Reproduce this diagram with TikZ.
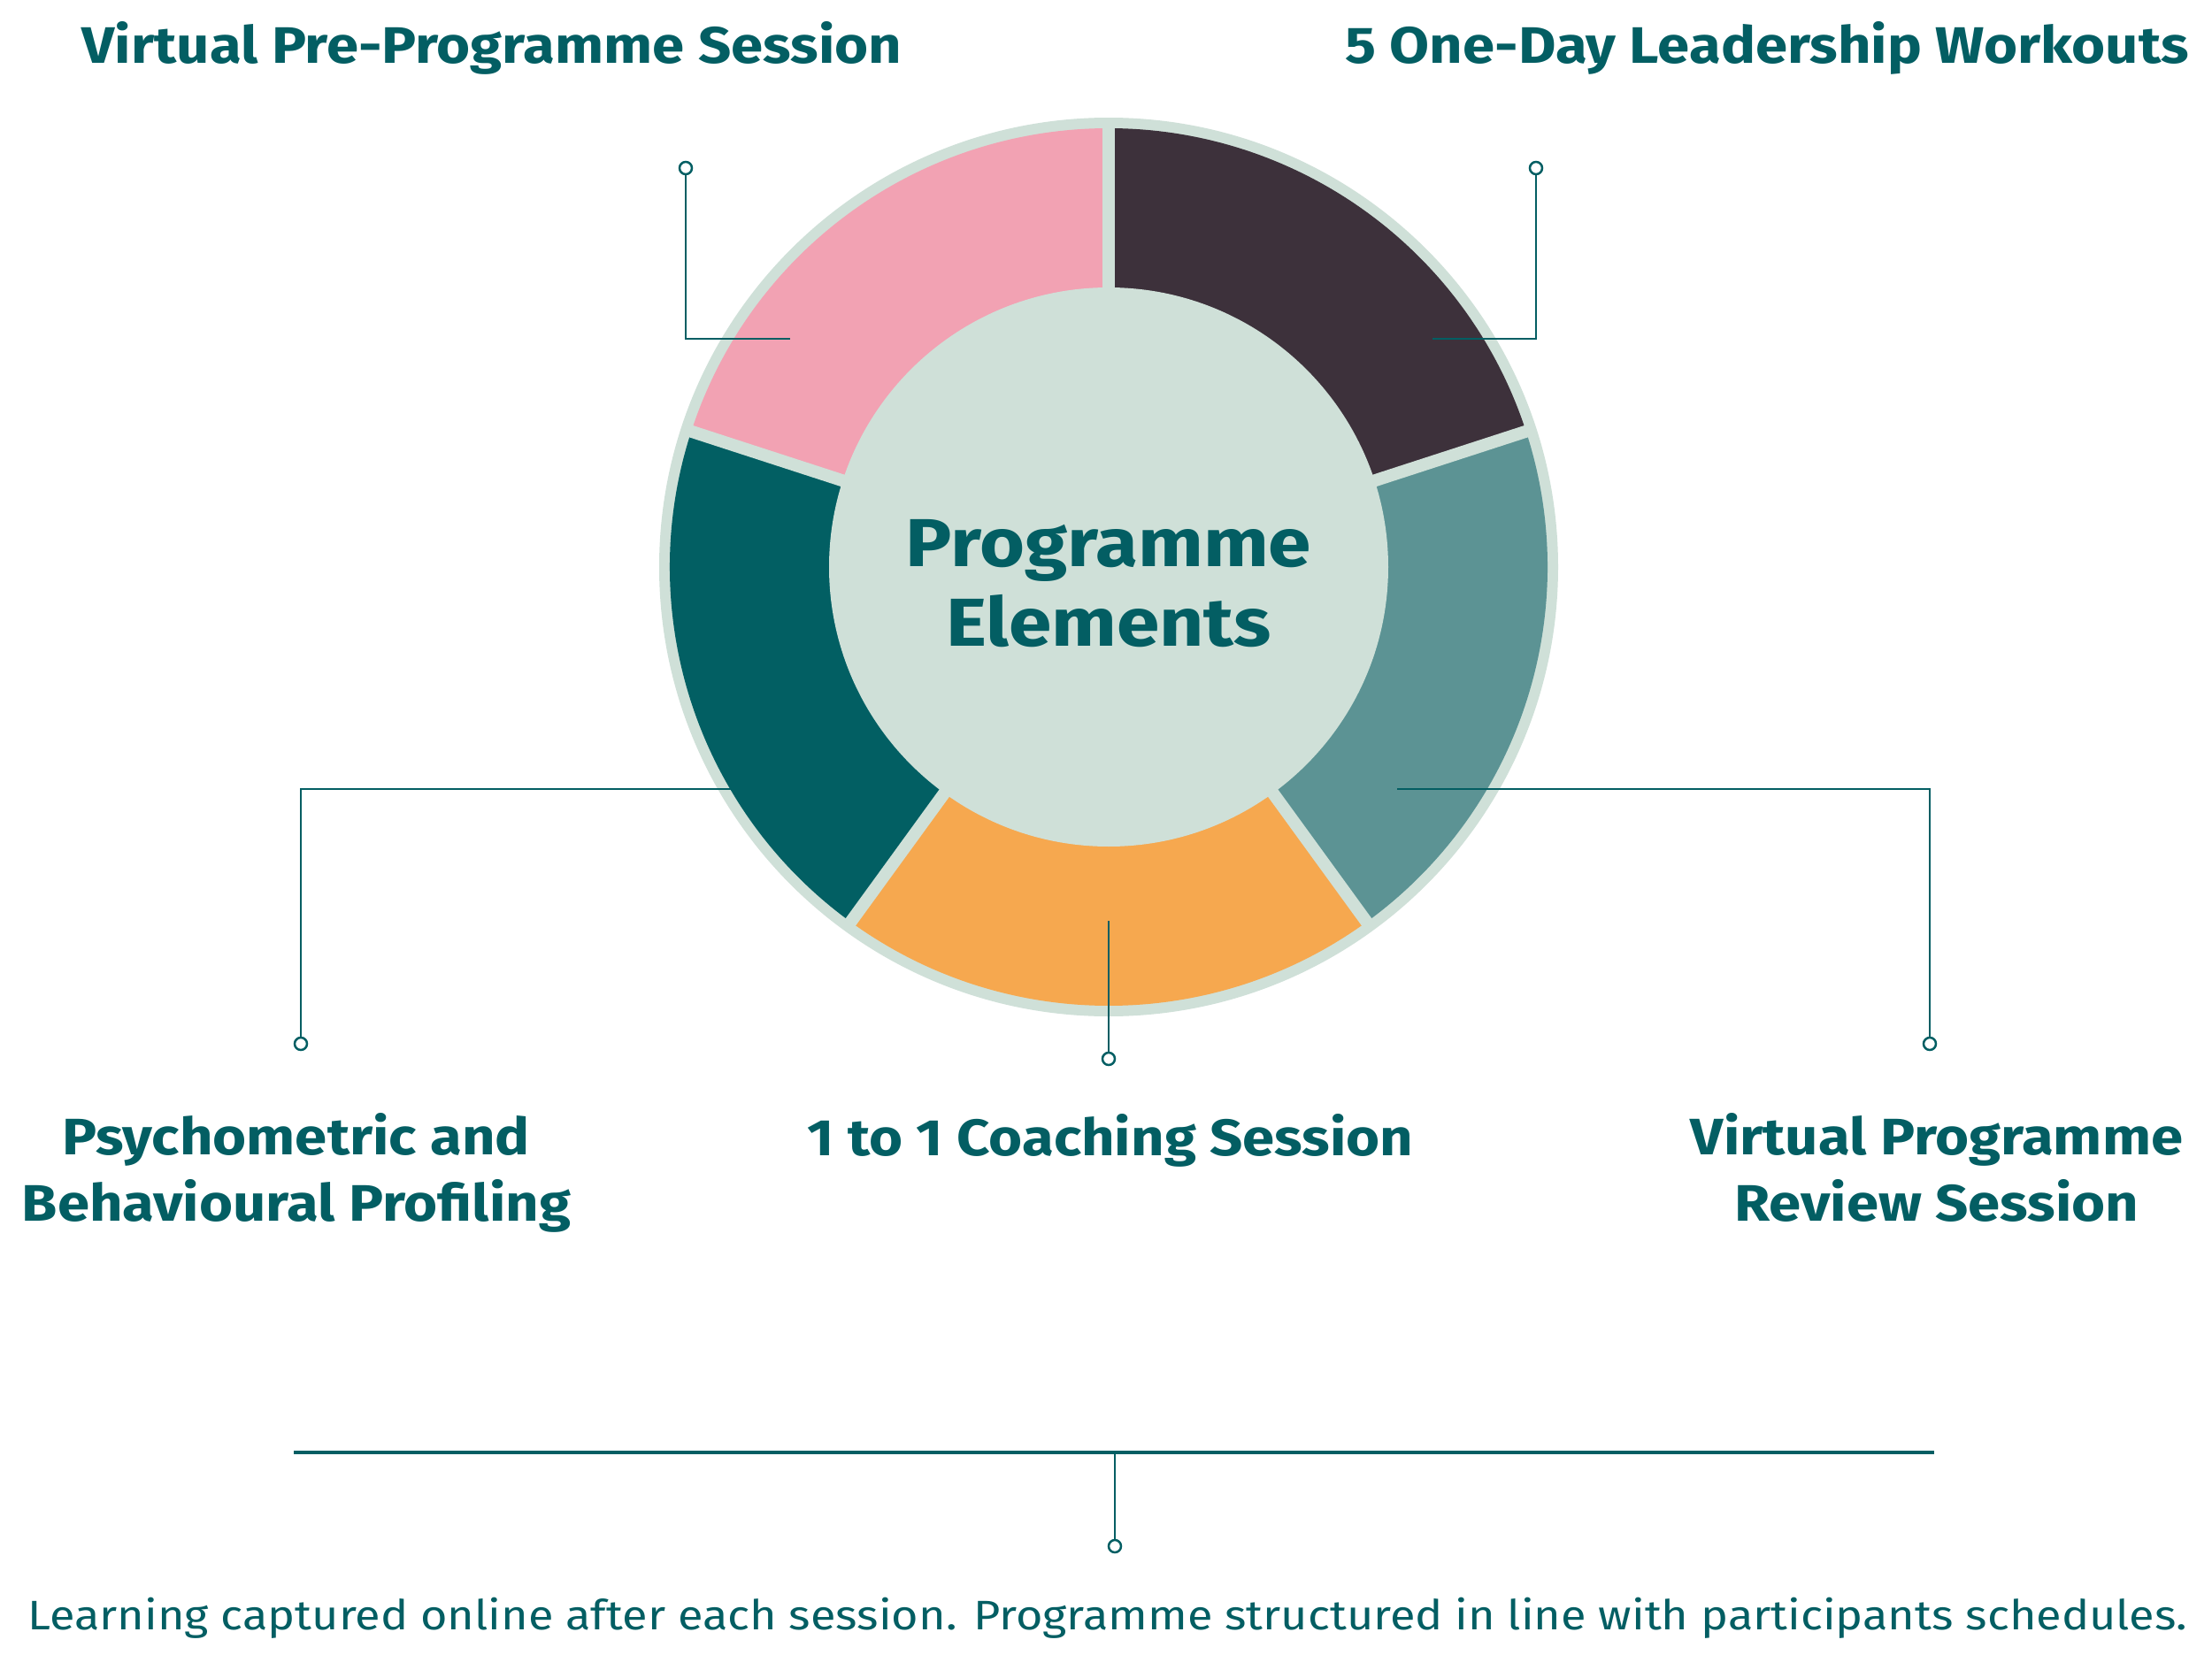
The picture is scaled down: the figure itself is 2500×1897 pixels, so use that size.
\documentclass[tikz,border=0pt]{standalone}
\usepackage{fontspec}
\setmainfont{Fira Sans}
\newfontfamily\labfont{Fira Sans}[FakeStretch=1.125]
\newfontfamily\ttlfont{Fira Sans}[FakeStretch=1.14]
\newfontfamily\footfont{Fira Sans}[FakeStretch=1.12]
\definecolor{tealtxt}{HTML}{035E63}
\definecolor{ringlight}{HTML}{CFE0D8}
\definecolor{segpink}{HTML}{F2A2B3}
\definecolor{segplum}{HTML}{3D313B}
\definecolor{seggrey}{HTML}{5C9394}
\definecolor{segorange}{HTML}{F6A84F}
\definecolor{segteal}{HTML}{025F63}
\begin{document}
\begin{tikzpicture}[x=0.3pt,y=-0.3pt,
  lab/.style={text=tealtxt, font=\labfont\fontsize{17.4}{22.5}\selectfont\bfseries, inner sep=0pt, anchor=base},
  ttl/.style={text=tealtxt, font=\ttlfont\fontsize{23}{27}\selectfont\bfseries, inner sep=0pt, anchor=base, align=center},
  foot/.style={text=tealtxt, font=\footfont\fontsize{14}{17}\selectfont, inner sep=0pt, anchor=base},
  conn/.style={draw=tealtxt, line width=0.8pt},
  dot/.style={circle, draw=tealtxt, fill=white, line width=0.75pt, inner sep=0pt, minimum size=4.2pt},
  gap/.style={draw=ringlight, line width=4.2pt}]
\useasboundingbox (0,0) rectangle (2500,1897);
\fill[white] (0,0) rectangle (2500,1897);
% ring
\begin{scope}[shift={(1253,641)}]
  \fill[ringlight] (0,0) circle[radius=508];
  \fill[segplum] (0,0) -- (-18:496) arc[start angle=-18, end angle=-90, radius=496] -- cycle;
  \fill[segpink] (0,0) -- (-90:496) arc[start angle=-90, end angle=-162, radius=496] -- cycle;
  \fill[segteal] (0,0) -- (-162:496) arc[start angle=-162, end angle=-234, radius=496] -- cycle;
  \fill[segorange] (0,0) -- (-234:496) arc[start angle=-234, end angle=-306, radius=496] -- cycle;
  \fill[seggrey] (0,0) -- (-306:496) arc[start angle=-306, end angle=-378, radius=496] -- cycle;
  \foreach \a in {18,90,162,234,306} \draw[gap] (0,0) -- (-\a:502);
  \node[circle, fill=ringlight, inner sep=0pt, minimum size=189.6pt] (core) at (0,0) {};
\end{scope}
\node[ttl] (title) at (1253,730) {Programme\\Elements};
% markers
\node[dot] (ppdot) at (775,190) {};
\node[dot] (wkdot) at (1736,190) {};
\node[dot] (psdot) at (340,1180) {};
\node[dot] (rvdot) at (2181,1180) {};
\node[dot] (cdot) at (1253,1197) {};
\node[dot] (bdot) at (1260,1748) {};
% connector ends
\coordinate (ppend) at (893,383);
\coordinate (wkend) at (1619,383);
\coordinate (psend) at (826,892);
\coordinate (rvend) at (1579,892);
\coordinate (cend) at (1253,1041);
\coordinate (bl) at (332,1642);
\coordinate (br) at (2186,1642);
\coordinate (bm) at (1260,1642);
\draw[conn] (ppdot) |- (ppend);
\draw[conn] (wkdot) |- (wkend);
\draw[conn] (psdot) |- (psend);
\draw[conn] (rvdot) |- (rvend);
\draw[conn] (cdot) -- (cend);
\draw[conn, line width=1.2pt] (bl) -- (br);
\draw[conn] (bm) -- (bdot);
% labels
\node[lab] (lpp) at (556,71) {Virtual Pre-Programme Session};
\node[lab] (lwk) at (1997,71) {5 One-Day Leadership Workouts};
\node[lab, align=center] (lps) at (335,1380) {Psychometric and\\Behavioural Profiling};
\node[lab] (lc) at (1255,1306) {1 to 1 Coaching Session};
\node[lab, align=center] (lrv) at (2189,1380) {Virtual Programme\\Review Session};
\node[foot] (lfoot) at (1252,1842) {Learning captured online after each session. Programme structured in line with participants schedules.};
\end{tikzpicture}
\end{document}
